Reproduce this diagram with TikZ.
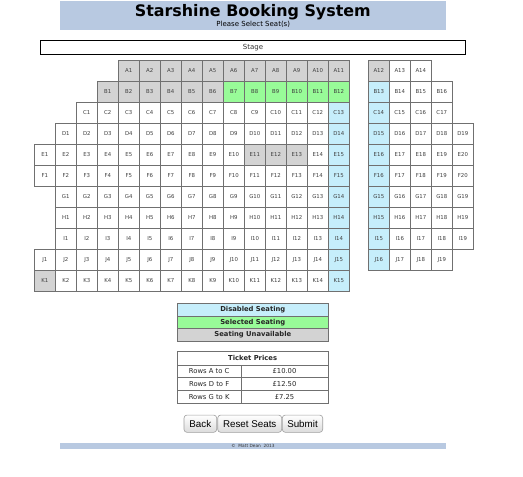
\documentclass[tikz,border=0pt]{standalone}
\usepackage{fontspec}
\setmainfont{DejaVu Sans}
\newfontfamily\btnfont{Liberation Sans}
\definecolor{unavc}{HTML}{D3D3D3}
\definecolor{selc}{HTML}{98FB98}
\definecolor{disc}{HTML}{C6EEFB}
\definecolor{hdr}{HTML}{B8C9E1}
\definecolor{gridc}{HTML}{707070}
\definecolor{seattxt}{HTML}{404040}
\definecolor{btnline}{HTML}{A0A0A0}
\newcommand{\markseats}[2]{\foreach \x in {#2}{\expandafter\xdef\csname st\x\endcsname{#1}}}
\markseats{unavc}{A1,A2,A3,A4,A5,A6,A7,A8,A9,A10,A11,A12,B1,B2,B3,B4,B5,B6,E11,E12,E13,K1}
\markseats{selc}{B7,B8,B9,B10,B11,B12}
\markseats{disc}{C13,D14,E15,F15,G14,H14,I14,J15,K15,B13,C14,D15,E16,F16,G15,H15,I15,J16}
\begin{document}
\begin{tikzpicture}[x=1pt,y=-1pt,
  seat/.style={draw=gridc, line width=0.7pt, minimum width=21pt, minimum height=21pt, inner sep=0pt,
    font=\fontsize{5.4}{6}\selectfont, text=seattxt},
  legend/.style={draw=gridc, line width=0.7pt, minimum width=151pt, minimum height=12.6pt, inner sep=0pt,
    font=\fontsize{6.8}{8}\selectfont\bfseries, text=black!85},
  cell/.style={draw=gridc, line width=0.7pt, minimum height=12.8pt, inner sep=0pt,
    font=\fontsize{6.8}{8}\selectfont, text=black!85},
  btn/.style={draw=btnline, line width=0.6pt, rounded corners=3pt, top color=white, bottom color=black!14,
    minimum height=17.3pt, inner sep=0pt, font=\btnfont\fontsize{9.8}{11}\selectfont}
]
\useasboundingbox (0,0) rectangle (523,477);
\fill[white] (0,0) rectangle (523,477);
% header
\fill[hdr] (60,1) rectangle (445.7,30.3);
\node[font=\fontsize{15.9}{18}\selectfont\bfseries, inner sep=0pt] (title) at (252.8,11.8) {Starshine Booking System};
\node[font=\fontsize{7}{8}\selectfont, inner sep=0pt] (subtitle) at (253.3,24.6) {Please Select Seat(s)};
% stage
\node[draw=black, line width=1.4pt, minimum width=424.6pt, minimum height=14.4pt, inner sep=0pt,
  font=\fontsize{7}{8}\selectfont, text=black!80] (stage) at (253,47.5) {Stage};
% seats
\foreach \r/\s/\nl/\nr [count=\k from 0] in {A/4/11/3, B/3/12/4, C/2/13/4, D/1/14/5, E/0/15/5, F/0/15/5, G/1/14/5, H/1/14/5, I/1/14/5, J/0/15/4, K/0/15/0}{
  \pgfmathsetmacro\yy{70.8+21*\k}
  \foreach \i in {1,...,\nl}{
    \def\st{white}
    \ifcsname st\r\i\endcsname \edef\st{\csname st\r\i\endcsname}\fi
    \pgfmathsetmacro\xx{44.8+21*(\s+\i-1)}
    \node[seat, fill=\st] (\r\i) at (\xx,\yy) {\r\i};
  }
  \ifnum\nr>0
  \foreach \j in {1,...,\nr}{
    \pgfmathtruncatemacro\nn{\nl+\j}
    \def\st{white}
    \ifcsname st\r\nn\endcsname \edef\st{\csname st\r\nn\endcsname}\fi
    \pgfmathsetmacro\xx{378.8+21*(\j-1)}
    \node[seat, fill=\st] (\r\nn) at (\xx,\yy) {\r\nn};
  }
  \fi
}
% legend
\node[legend, fill=disc] (ldis) at (252.8,309.6) {Disabled Seating};
\node[legend, fill=selc] (lsel) at (252.8,322.2) {Selected Seating};
\node[legend, fill=unavc] (lun) at (252.8,334.7) {Seating Unavailable};
% ticket prices
\node[cell, minimum width=150.7pt, minimum height=13.3pt, font=\fontsize{6.8}{8}\selectfont\bfseries] (tph) at (252.65,358.35) {Ticket Prices};
\node[cell, minimum width=63.7pt] (r1a) at (209.15,371.4) {Rows A to C};
\node[cell, minimum width=87pt] (r1b) at (284.5,371.4) {£10.00};
\node[cell, minimum width=63.7pt] (r2a) at (209.15,384.2) {Rows D to F};
\node[cell, minimum width=87pt] (r2b) at (284.5,384.2) {£12.50};
\node[cell, minimum width=63.7pt] (r3a) at (209.15,397) {Rows G to K};
\node[cell, minimum width=87pt] (r3b) at (284.5,397) {£7.25};
% buttons
\node[btn, minimum width=32.7pt] (back) at (200.35,423.7) {Back};
\node[btn, minimum width=64pt] (reset) at (249.7,423.7) {Reset Seats};
\node[btn, minimum width=40.4pt] (submit) at (302.5,423.7) {Submit};
% footer
\fill[hdr] (60,443.3) rectangle (446,448.8);
\node[font=\fontsize{4.3}{5}\selectfont, inner sep=0pt, text=black!80] (foot) at (253,446) {©\ \ Matt Dean\ \ 2013};
\end{tikzpicture}
\end{document}
